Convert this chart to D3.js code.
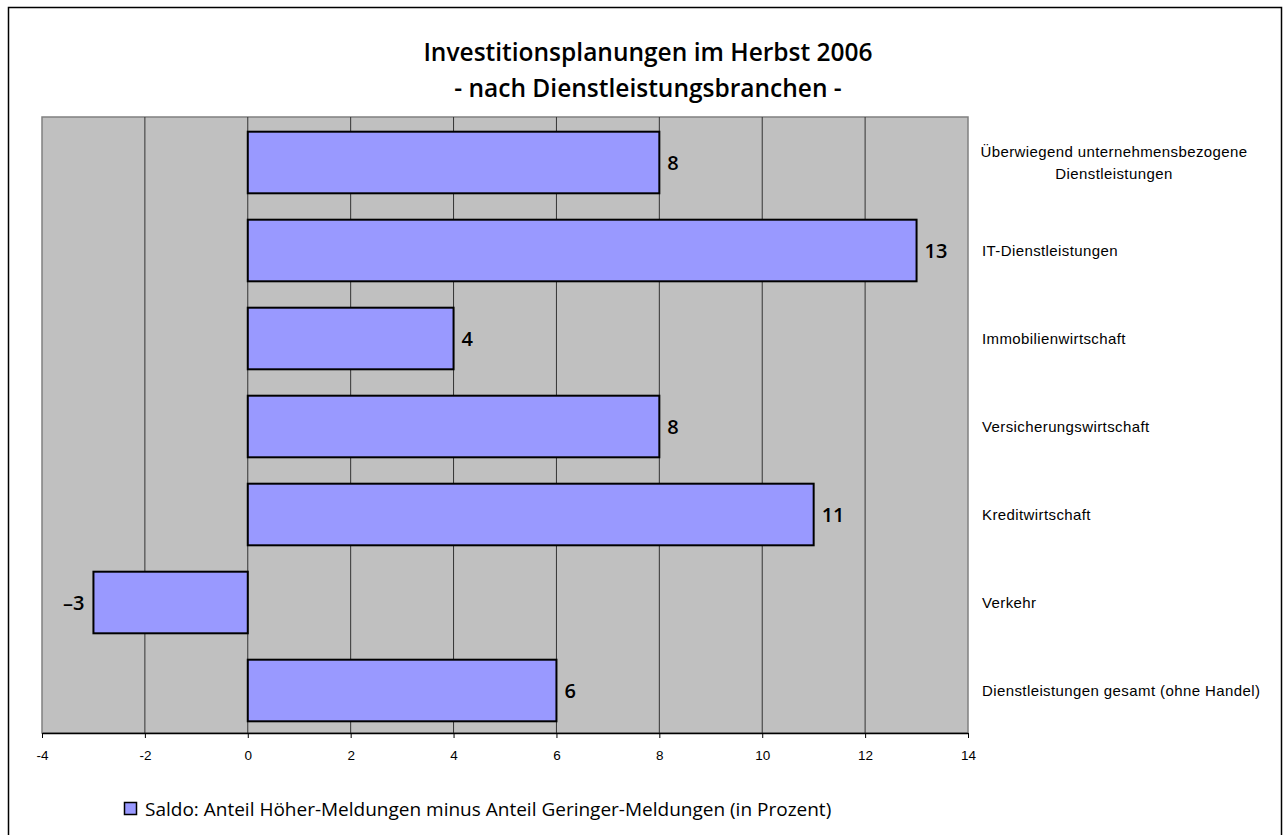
<!DOCTYPE html>
<html>
<head>
<meta charset="utf-8">
<script src="https://cdn.jsdelivr.net/npm/d3@7"></script>
<style>
body{margin:0;background:#fff;}
svg{display:block;}
</style>
</head>
<body>
<svg id="chart" width="1285" height="835"></svg>
<script>
var categories = [
	["Überwiegend unternehmensbezogene","Dienstleistungen"],
	["IT-Dienstleistungen"],
	["Immobilienwirtschaft"],
	["Versicherungswirtschaft"],
	["Kreditwirtschaft"],
	["Verkehr"],
	["Dienstleistungen gesamt (ohne Handel)"]
];
var values = [8, 13, 4, 8, 11, -3, 6];
var xTicks = [-4, -2, 0, 2, 4, 6, 8, 10, 12, 14];
var titleLines = ["Investitionsplanungen im Herbst 2006", "- nach Dienstleistungsbranchen -"];
var legendText = "Saldo: Anteil Höher-Meldungen minus Anteil Geringer-Meldungen (in Prozent)";

var svg = d3.select("#chart");
var titleFont = "'Open Sans', 'DejaVu Sans', sans-serif";
var axisFont = "'Liberation Sans', Arial, sans-serif";

// outer frame
svg.append("rect")
	.attr("x",8.5).attr("y",7.5)
	.attr("width",1273).attr("height",840)
	.attr("fill","#fff").attr("stroke","#000").attr("stroke-width",1.5);

var pLeft = 42, pRight = 968, pTop = 117, pBottom = 733;

var x = d3.scaleLinear().domain([-4,14]).range([pLeft,pRight]);
var y = d3.scaleBand().domain(d3.range(values.length)).range([pTop+1.5,pBottom+1.5]).paddingInner(0.3).paddingOuter(0.15);

// plot background
svg.append("rect")
	.attr("x",pLeft).attr("y",pTop)
	.attr("width",pRight-pLeft).attr("height",pBottom-pTop)
	.attr("fill","#c0c0c0").attr("stroke","#808080").attr("stroke-width",1.5);

// gridlines
svg.append("g").selectAll("line")
	.data(xTicks.slice(1,-1))
	.enter().append("line")
	.attr("x1",function(d){return x(d);}).attr("x2",function(d){return x(d);})
	.attr("y1",pTop).attr("y2",pBottom)
	.attr("stroke","#333").attr("stroke-width",1);

// bars
svg.append("g").selectAll("rect")
	.data(values)
	.enter().append("rect")
	.attr("x",function(d){return x(Math.min(0,d));})
	.attr("y",function(d,i){return y(i);})
	.attr("width",function(d){return Math.abs(x(d)-x(0));})
	.attr("height",y.bandwidth())
	.attr("fill","#9999ff").attr("stroke","#000").attr("stroke-width",2);

// value labels
svg.append("g").selectAll("text")
	.data(values)
	.enter().append("text")
	.attr("x",function(d){return d<0 ? x(d)-9 : x(d)+8;})
	.attr("y",function(d,i){return y(i)+y.bandwidth()/2;})
	.attr("dy","0.36em")
	.attr("text-anchor",function(d){return d<0 ? "end" : "start";})
	.attr("font-family",titleFont).attr("font-weight",600).attr("font-size",20)
	.text(function(d){return d<0 ? "\u2013"+Math.abs(d) : d;});

// x axis
var xAxis = d3.axisBottom(x).tickValues(xTicks).tickSize(5).tickSizeOuter(0)
	.tickFormat(function(d){return String(d);});
var gx = svg.append("g")
	.attr("transform","translate(0,"+pBottom+")")
	.call(xAxis);
gx.select(".domain").attr("stroke","#000").attr("stroke-width",1.5);
gx.selectAll(".tick line").attr("stroke","#000");
gx.selectAll("text")
	.attr("font-family",axisFont).attr("font-size",13.5).attr("fill","#000")
	.attr("y",17).attr("dy","0.71em");

// category labels on the right
var cat = svg.append("g").selectAll("text")
	.data(categories)
	.enter().append("text")
	.attr("font-family",axisFont).attr("font-size",15).attr("fill","#000")
	.attr("letter-spacing",0.4)
	.attr("text-anchor",function(d){return d.length>1 ? "middle" : "start";})
	.attr("x",function(d){return d.length>1 ? 1114 : 982;})
	.attr("y",function(d,i){return y(i)+y.bandwidth()/2 - (d.length-1)*11;});
cat.each(function(d){
	var t = d3.select(this);
	d.forEach(function(line,k){
		t.append("tspan")
			.attr("x",t.attr("x"))
			.attr("dy",k==0 ? "0.35em" : "1.47em")
			.text(line);
	});
});

// title
svg.append("g").selectAll("text")
	.data(titleLines)
	.enter().append("text")
	.attr("x",648)
	.attr("y",function(d,i){return 61+i*36;})
	.attr("text-anchor","middle")
	.attr("font-family",titleFont).attr("font-weight",600).attr("font-size",24.5)
	.text(function(d){return d;});

// legend
svg.append("rect")
	.attr("x",124.5).attr("y",802.5).attr("width",12).attr("height",12)
	.attr("fill","#9999ff").attr("stroke","#000").attr("stroke-width",1.5);
svg.append("text")
	.attr("x",145).attr("y",816)
	.attr("font-family",titleFont).attr("font-size",19)
	.text(legendText);
</script>
</body>
</html>
